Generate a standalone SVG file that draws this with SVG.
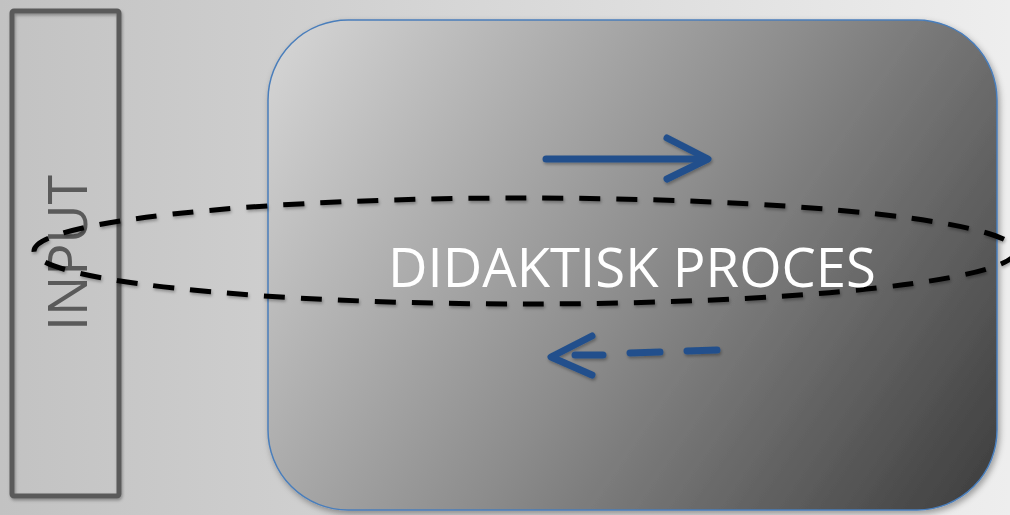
<svg xmlns="http://www.w3.org/2000/svg" width="1010" height="515" viewBox="0 0 1010 515">
  <defs>
    <linearGradient id="bg" x1="0" y1="0" x2="1" y2="0">
      <stop offset="0" stop-color="#c2c2c2"/>
      <stop offset="1" stop-color="#eeeeee"/>
    </linearGradient>
    <linearGradient id="proc" gradientUnits="userSpaceOnUse" x1="300" y1="30" x2="990" y2="500">
      <stop offset="0" stop-color="#d2d2d2"/>
      <stop offset="0.5" stop-color="#8c8c8c"/>
      <stop offset="1" stop-color="#3e3e3e"/>
    </linearGradient>
    <filter id="shadow" x="-10%" y="-10%" width="120%" height="120%">
      <feDropShadow dx="2" dy="3" stdDeviation="3" flood-color="#000" flood-opacity="0.35"/>
    </filter>
    <filter id="soft" x="-5%" y="-20%" width="110%" height="140%">
      <feDropShadow dx="1" dy="2" stdDeviation="1.5" flood-color="#000" flood-opacity="0.3"/>
    </filter>
  </defs>
  <style>
    .arrow { fill: none; stroke: #23508c; stroke-width: 7; stroke-linecap: round; stroke-linejoin: round; }
    .label { font-family: "Open Sans", "Liberation Sans", sans-serif; }
  </style>
  <rect x="0" y="0" width="1010" height="515" fill="url(#bg)"/>

  <g id="input">
    <rect x="12" y="11" width="107" height="485" rx="2" fill="none" stroke="#5a5a5a" stroke-width="5" filter="url(#soft)"/>
    <text class="label" x="0" y="0" transform="translate(87,253) rotate(-90)" text-anchor="middle" font-size="54" fill="#5a5a5a" textLength="156" lengthAdjust="spacingAndGlyphs">INPUT</text>
  </g>

  <g id="process">
    <rect x="268" y="20" width="729" height="490" rx="80" ry="80" fill="url(#proc)" stroke="#4a7ebb" stroke-width="1.5" filter="url(#shadow)"/>
  </g>

  <g id="connectors">
    <g filter="url(#soft)">
      <line class="arrow" x1="546" y1="159" x2="705" y2="159"/>
      <polyline class="arrow" points="667,138 708,159 667,179"/>
      <polyline class="arrow" points="592,336 551,357 592,375"/>
      <line class="arrow" x1="575" y1="355" x2="603" y2="355" stroke-linecap="butt"/>
      <line class="arrow" x1="630" y1="353" x2="660" y2="352" stroke-linecap="butt"/>
      <line class="arrow" x1="687" y1="351" x2="717" y2="350" stroke-linecap="butt"/>
    </g>
    <ellipse cx="525" cy="251" rx="491" ry="53" fill="none" stroke="#000" stroke-width="5" stroke-dasharray="21 16" filter="url(#soft)"/>
  </g>

  <g id="label">
    <text class="label" x="632" y="287" text-anchor="middle" font-size="54" fill="#ffffff" textLength="488" lengthAdjust="spacingAndGlyphs">DIDAKTISK PROCES</text>
  </g>
</svg>
